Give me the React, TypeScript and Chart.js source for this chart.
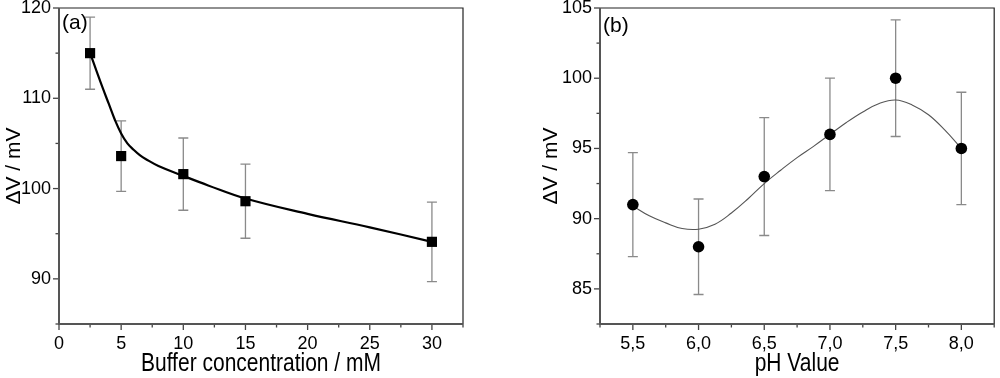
import React, { useEffect, useRef } from "react";
import { Chart, registerables } from "chart.js";

Chart.register(...registerables);

// ---------- Panel (a): buffer concentration ----------
const concX = [2.5, 5, 10, 15, 30];
const dvA = [115.0, 103.6, 101.6, 98.6, 94.1];
const errA = [4.0, 3.9, 4.0, 4.1, 4.4];
const fitAX = [2.5, 3, 3.5, 4, 4.5, 5, 5.5, 6, 6.5, 7, 8, 10, 12, 15, 20, 25, 30];
const fitAY = [115.0, 113.1, 111.2, 109.4, 107.6, 106.1, 105.0, 104.3, 103.7, 103.25, 102.5, 101.4, 100.35, 98.9, 97.2, 95.7, 94.1];

// ---------- Panel (b): pH ----------
const phX = [5.5, 6.0, 6.5, 7.0, 7.5, 8.0];
const dvB = [91, 88, 93, 96, 100, 95];
const errB = [3.7, 3.4, 4.2, 4.0, 4.15, 4.0];
const fitBX = [5.5, 5.625, 5.75, 5.875, 6.0, 6.125, 6.25, 6.375, 6.5, 6.625, 6.75, 6.875, 7.0, 7.125, 7.25, 7.375, 7.5, 7.625, 7.75, 7.875, 8.0];
const fitBY = [90.9, 90.2, 89.7, 89.3, 89.25, 89.6, 90.4, 91.4, 92.5, 93.45, 94.35, 95.15, 96.0, 96.85, 97.6, 98.2, 98.45, 98.1, 97.4, 96.3, 95.0];

const FONT = "'Liberation Sans', Arial, sans-serif";

type PanelCfg = {
  tag: string;
  tagBaseline: number;
  xs: number[];
  ys: number[];
  errs: number[];
  fitX: number[];
  fitY: number[];
  xMin: number;
  xMax: number;
  xStep: number;
  xMajor: number;
  xFmt: (v: number) => string;
  yMin: number;
  yMax: number;
  yStep: number;
  yMajor: number;
  xTitle: string;
  yTitle: string;
  yScaleWidth: number;
  yTitlePad: number;
  rightPad: number;
  pointStyle: string;
  pointRadius: number;
  fitColor: string;
  fitWidth: number;
};

const isMajor = (v: number, major: number) => Math.abs(v / major - Math.round(v / major)) < 1e-6;

function Panel({ cfg }: { cfg: PanelCfg }) {
  const ref = useRef<HTMLCanvasElement | null>(null);
  useEffect(() => {
    if (!ref.current) return;
    const plugin = {
      id: "decor",
      beforeDatasetsDraw(chart: any) {
        const ctx = chart.ctx;
        const xs = chart.scales.x;
        const ys = chart.scales.y;
        ctx.save();
        ctx.strokeStyle = "#8a8a8a";
        ctx.lineWidth = 1.3;
        cfg.xs.forEach((xv, i) => {
          const px = xs.getPixelForValue(xv);
          const top = ys.getPixelForValue(cfg.ys[i] + cfg.errs[i]);
          const bot = ys.getPixelForValue(cfg.ys[i] - cfg.errs[i]);
          ctx.beginPath();
          ctx.moveTo(px, top);
          ctx.lineTo(px, bot);
          ctx.moveTo(px - 5, top);
          ctx.lineTo(px + 5, top);
          ctx.moveTo(px - 5, bot);
          ctx.lineTo(px + 5, bot);
          ctx.stroke();
        });
        ctx.restore();
      },
      afterDraw(chart: any) {
        const ctx = chart.ctx;
        const { left, right, top, bottom } = chart.chartArea;
        const xs = chart.scales.x;
        const ys = chart.scales.y;
        ctx.save();
        // ticks
        ctx.strokeStyle = "#444";
        ctx.lineWidth = 1.3;
        xs.ticks.forEach((t: any) => {
          const px = xs.getPixelForValue(t.value);
          const len = isMajor(t.value, cfg.xMajor) ? 6 : 3.5;
          ctx.beginPath();
          ctx.moveTo(px, bottom);
          ctx.lineTo(px, bottom + len);
          ctx.stroke();
        });
        ys.ticks.forEach((t: any) => {
          const py = ys.getPixelForValue(t.value);
          const len = isMajor(t.value, cfg.yMajor) ? 6 : 3.5;
          ctx.beginPath();
          ctx.moveTo(left, py);
          ctx.lineTo(left - len, py);
          ctx.stroke();
        });
        // frame
        ctx.strokeStyle = "#222";
        ctx.lineWidth = 1.2;
        ctx.beginPath();
        ctx.moveTo(left, top);
        ctx.lineTo(right, top);
        ctx.lineTo(right, bottom);
        ctx.stroke();
        ctx.strokeStyle = "#555";
        ctx.lineWidth = 2;
        ctx.beginPath();
        ctx.moveTo(left, top);
        ctx.lineTo(left, bottom);
        ctx.lineTo(right, bottom);
        ctx.stroke();
        // panel tag
        ctx.fillStyle = "#000";
        ctx.font = `21px ${FONT}`;
        ctx.textBaseline = "alphabetic";
        ctx.textAlign = "left";
        ctx.fillText(cfg.tag, left + 3, cfg.tagBaseline);
        // x-axis title (vertically stretched like the original)
        ctx.textAlign = "center";
        ctx.translate((left + right) / 2, 371);
        ctx.scale(1, 1.2);
        ctx.fillText(cfg.xTitle, 0, 0);
        ctx.restore();
      },
    };

    const chart = new Chart(ref.current, {
      type: "scatter",
      data: {
        datasets: [
          {
            type: "line",
            data: cfg.fitX.map((x, i) => ({ x, y: cfg.fitY[i] })),
            borderColor: cfg.fitColor,
            borderWidth: cfg.fitWidth,
            pointRadius: 0,
            fill: false,
            tension: 0.4,
            order: 2,
          } as any,
          {
            data: cfg.xs.map((x, i) => ({ x, y: cfg.ys[i] })),
            backgroundColor: "#000",
            borderColor: "#000",
            borderWidth: 0,
            pointStyle: cfg.pointStyle as any,
            pointRadius: cfg.pointRadius,
            order: 1,
          },
        ],
      },
      options: {
        animation: false,
        responsive: true,
        maintainAspectRatio: false,
        layout: { padding: { top: 8, right: cfg.rightPad, left: 0, bottom: 0 } },
        plugins: { legend: { display: false }, tooltip: { enabled: false } },
        scales: {
          x: {
            type: "linear",
            min: cfg.xMin,
            max: cfg.xMax,
            border: { display: false },
            grid: { display: true, drawOnChartArea: false, tickColor: "rgba(0,0,0,0)", tickLength: 6 },
            ticks: {
              stepSize: cfg.xStep,
              autoSkip: false,
              maxRotation: 0,
              padding: 3,
              color: "#000",
              font: { family: FONT, size: 18 },
              callback: (v: any) => (isMajor(Number(v), cfg.xMajor) ? cfg.xFmt(Number(v)) : ""),
            },
            title: { display: false, text: cfg.xTitle },
            afterFit: (s: any) => {
              s.height = 54;
              s.paddingLeft = 0;
              s.paddingRight = 0;
            },
          },
          y: {
            type: "linear",
            min: cfg.yMin,
            max: cfg.yMax,
            border: { display: false },
            grid: { display: true, drawOnChartArea: false, tickColor: "rgba(0,0,0,0)", tickLength: 6 },
            ticks: {
              stepSize: cfg.yStep,
              autoSkip: false,
              padding: 2,
              color: "#000",
              font: { family: FONT, size: 18 },
              callback: (v: any) => (isMajor(Number(v), cfg.yMajor) ? String(v) : ""),
            },
            title: {
              display: true,
              text: cfg.yTitle,
              color: "#000",
              font: { family: FONT, size: 21 },
              padding: { top: cfg.yTitlePad, bottom: 0 },
            },
            afterFit: (s: any) => {
              s.width = cfg.yScaleWidth;
              s.paddingTop = 0;
              s.paddingBottom = 0;
            },
          },
        },
      },
      plugins: [plugin],
    } as any);
    return () => chart.destroy();
  }, [cfg]);
  return (
    <div style={{ position: "relative", width: 500, height: 378 }}>
      <canvas ref={ref} />
    </div>
  );
}

const cfgA: PanelCfg = {
  tag: "(a)",
  tagBaseline: 29,
  xs: concX,
  ys: dvA,
  errs: errA,
  fitX: fitAX,
  fitY: fitAY,
  xMin: 0,
  xMax: 32.5,
  xStep: 2.5,
  xMajor: 5,
  xFmt: (v) => String(v),
  yMin: 85,
  yMax: 120,
  yStep: 5,
  yMajor: 10,
  xTitle: "Buffer concentration / mM",
  yTitle: "ΔV / mV",
  yScaleWidth: 59,
  yTitlePad: 2,
  rightPad: 37,
  pointStyle: "rect",
  pointRadius: 7.2,
  fitColor: "#000",
  fitWidth: 2.2,
};

const cfgB: PanelCfg = {
  tag: "(b)",
  tagBaseline: 32,
  xs: phX,
  ys: dvB,
  errs: errB,
  fitX: fitBX,
  fitY: fitBY,
  xMin: 5.25,
  xMax: 8.25,
  xStep: 0.25,
  xMajor: 0.5,
  xFmt: (v) => v.toFixed(1).replace(".", ","),
  yMin: 82.5,
  yMax: 105,
  yStep: 2.5,
  yMajor: 5,
  xTitle: "pH Value",
  yTitle: "ΔV / mV",
  yScaleWidth: 100,
  yTitlePad: 39,
  rightPad: 1,
  pointStyle: "circle",
  pointRadius: 5.8,
  fitColor: "#555",
  fitWidth: 1.1,
};

export default function App() {
  return (
    <div style={{ display: "flex", width: 1000, height: 378, background: "#fff" }}>
      <style>{`body{margin:0;background:#fff}`}</style>
      <Panel cfg={cfgA} />
      <Panel cfg={cfgB} />
    </div>
  );
}
